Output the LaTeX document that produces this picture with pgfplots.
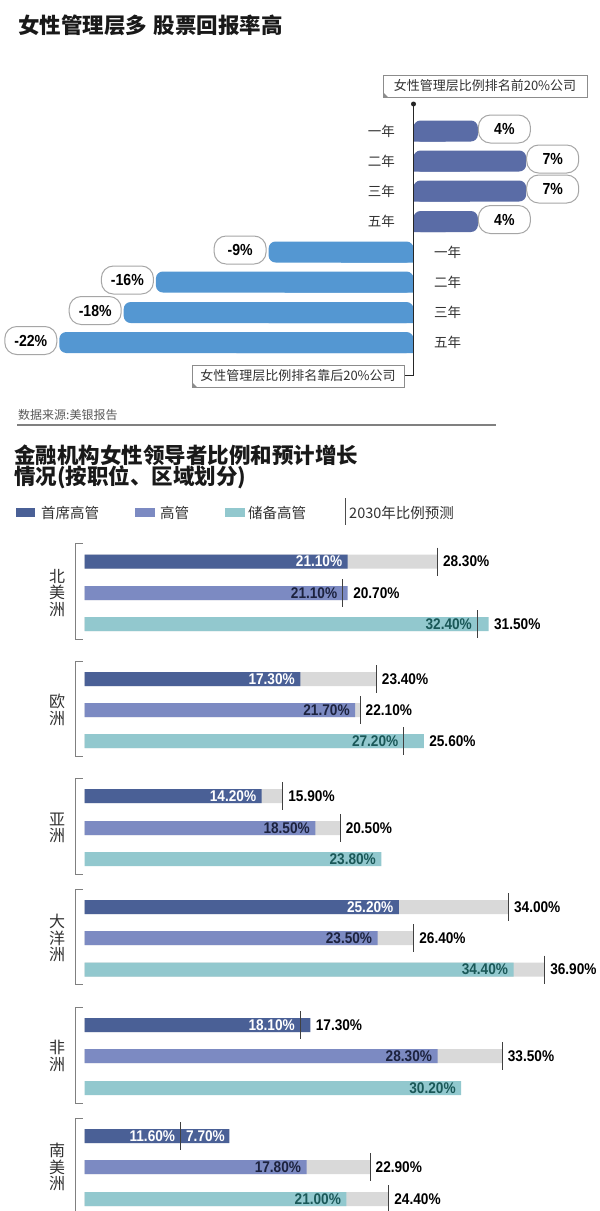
\documentclass[border=0pt]{standalone}
\usepackage{pgfplots}
\pgfplotsset{compat=1.18}
\usepackage{pgfplotstable}
\usepackage{fontspec}
\setmainfont{Noto Sans CJK SC}
\newfontfamily\numfont[FakeStretch=0.88]{Liberation Sans}

\definecolor{posblue}{RGB}{90,108,166}
\definecolor{negblue}{RGB}{84,151,210}
\definecolor{cA}{RGB}{74,96,150}
\definecolor{cB}{RGB}{124,138,194}
\definecolor{cC}{RGB}{146,200,206}
\definecolor{cG}{RGB}{217,217,217}
\definecolor{txtA}{RGB}{28,34,62}
\definecolor{txtC}{RGB}{26,88,88}
\definecolor{txtgray}{RGB}{50,50,50}

% top chart: stock return, y = row position (px)
\pgfplotstableread{
y v
131 4
161 7
191 7
221.5 4
}\tPos
\pgfplotstableread{
y v
252 -9
282 -16
312.5 -18
342.5 -22
}\tNeg

% bottom chart: current share (cur), label position (lx)
\pgfplotstableread{
y cur lx
561.5 21.1 21.1
679 17.3 17.3
796 14.2 14.2
907 25.2 25.2
1025 18.1 17.3
1136 11.6 7.7
}\tA
\pgfplotstableread{
y cur lx
593 21.1 20.7
710 21.7 21.7
828 18.5 18.5
938 23.5 23.5
1056 28.3 28.3
1167 17.8 17.8
}\tB
\pgfplotstableread{
y cur lx
624 32.4 31.5
741 27.2 25.6
859 23.8 23.8
969.5 34.4 34.4
1088 30.2 30.2
1199 21.0 21.0
}\tC
% 2030 forecast (fut), label position (fx)
\pgfplotstableread{
y fut fx
561.5 28.3 28.3
593 20.7 21.1
624 31.5 32.4
679 23.4 23.4
710 22.1 22.1
741 25.6 27.2
796 15.9 15.9
828 20.5 20.5
907 34.0 34.0
938 26.4 26.4
969.5 36.9 36.9
1025 17.3 18.1
1056 33.5 33.5
1136 7.7 7.7
1167 22.9 22.9
1199 24.4 24.4
}\tF

\tikzset{
  numlab/.style={font=\numfont\bfseries\fontsize{15.5}{16}\selectfont},
  mycallout/.style={draw=black!35, line width=1pt, fill=white, rounded corners=12pt,
    minimum width=52pt, minimum height=28pt, inner sep=0pt, text=black,
    font=\numfont\bfseries\fontsize{16}{16}\selectfont},
}
\pgfplotsset{
  pctfmt/.style={nodes near coords={\pgfmathprintnumber[fixed,fixed zerofill,precision=2,assume math mode=true]{\pgfplotspointmeta}\%}},
}

\begin{document}
\begin{tikzpicture}
\path[use as bounding box] (0,0) rectangle (600pt,-1211pt);
\fill[white] (0,0) rectangle (600pt,-1211pt);

% ---------- top chart ----------
\begin{axis}[at={(11pt,-100pt)}, anchor=north west, scale only axis,
  width=579.6pt, height=300pt, xmin=-25, xmax=11, ymin=100, ymax=400,
  y dir=reverse, axis lines=none, clip=false]
\addplot[xbar, bar width=21, bar shift=0, fill=posblue, draw=none, rounded corners=7pt] table[x=v,y=y]{\tPos};
\addplot[xbar, bar width=10.5, bar shift=5.25, fill=posblue, draw=none] table[x expr=\thisrow{v}/2,y=y]{\tPos};
\addplot[xbar, bar width=21, bar shift=0, fill=negblue, draw=none, rounded corners=7pt] table[x=v,y=y]{\tNeg};
\addplot[xbar, bar width=10.5, bar shift=5.25, fill=negblue, draw=none] table[x expr=\thisrow{v}/2,y=y]{\tNeg};
% callouts
\addplot[draw=none, nodes near coords, point meta=explicit symbolic,
  every node near coord/.append style={mycallout, anchor=west, xshift=0pt}]
  coordinates {(4,129) [4\%] (7,159) [7\%] (7,189) [7\%] (4,219.5) [4\%]};
\addplot[draw=none, nodes near coords, point meta=explicit symbolic,
  every node near coord/.append style={mycallout, anchor=east, xshift=-2pt}]
  coordinates {(-9,250) [-9\%] (-16,280) [-16\%] (-18,310.5) [-18\%] (-22,340.5) [-22\%]};
% category labels
\addplot[draw=none, nodes near coords, point meta=explicit symbolic,
  every node near coord/.append style={anchor=east, xshift=-15pt, text=txtgray, font=\fontsize{13.5}{13.5}\selectfont}]
  coordinates {(0,131) [一年] (0,161) [二年] (0,191) [三年] (0,221.5) [五年]};
\addplot[draw=none, nodes near coords, point meta=explicit symbolic,
  every node near coord/.append style={anchor=west, xshift=17pt, text=txtgray, font=\fontsize{13.5}{13.5}\selectfont}]
  coordinates {(0,252) [一年] (0,282) [二年] (0,312.5) [三年] (0,342.5) [五年]};
\end{axis}

% ---------- bottom chart ----------
\begin{axis}[at={(84.6pt,-540pt)}, anchor=north west, scale only axis,
  width=511.27pt, height=671pt, xmin=0, xmax=41, ymin=540, ymax=1211,
  y dir=reverse, axis lines=none, clip=false]
\addplot[xbar, bar width=14, bar shift=0, fill=cG, draw=none] table[x=fut,y=y]{\tF};
\addplot[xbar, bar width=14, bar shift=0, fill=cA, draw=none] table[x=cur,y=y]{\tA};
\addplot[xbar, bar width=14, bar shift=0, fill=cB, draw=none] table[x=cur,y=y]{\tB};
\addplot[xbar, bar width=14, bar shift=0, fill=cC, draw=none] table[x=cur,y=y]{\tC};
\addplot[only marks, mark=|, mark size=14pt, mark options={line width=0.9pt, draw=black!75}] table[x=fut,y=y]{\tF};
% current labels
\addplot[draw=none, pctfmt, point meta=\thisrow{cur},
  every node near coord/.append style={numlab, anchor=east, xshift=-2pt, text=white}] table[x=lx,y=y]{\tA};
\addplot[draw=none, pctfmt, point meta=\thisrow{cur},
  every node near coord/.append style={numlab, anchor=east, xshift=-2pt, text=txtA}] table[x=lx,y=y]{\tB};
\addplot[draw=none, pctfmt, point meta=\thisrow{cur},
  every node near coord/.append style={numlab, anchor=east, xshift=-2pt, text=txtC}] table[x=lx,y=y]{\tC};
% 2030 labels
\addplot[draw=none, pctfmt, point meta=\thisrow{fut},
  every node near coord/.append style={numlab, anchor=west, xshift=2pt, text=black}]
  table[x=fx,y=y, restrict y to domain=0:1130]{\tF};
\addplot[draw=none, pctfmt, point meta=\thisrow{fut},
  every node near coord/.append style={numlab, anchor=west, xshift=2pt, text=white}]
  table[x=fx,y=y, restrict y to domain=1130:1140]{\tF};
\addplot[draw=none, pctfmt, point meta=\thisrow{fut},
  every node near coord/.append style={numlab, anchor=west, xshift=2pt, text=black}]
  table[x=fx,y=y, restrict y to domain=1150:1211]{\tF};
\end{axis}

% ---------- decorations (pixel coordinates, y downward) ----------
\begin{scope}[x=1pt,y=-1pt]
\node[anchor=west, inner sep=0pt, font=\fontsize{21.5}{21.5}\selectfont\bfseries, text=black!90] at (18,25) {女性管理层多\hspace{0.3em}股票回报率高};

% top axis line and boxes
\draw[line width=1pt, black!85] (413.5,104) -- (413.5,375) -- (405,375);
\fill[black!85] (413.5,104) circle (2.5pt);
\node[draw=black!45, fill=white, line width=0.8pt, minimum width=204pt, minimum height=22pt, inner sep=0pt,
  font=\fontsize{13}{13}\selectfont, text=txtgray] at (485,86) {女性管理层比例排名前20\%公司};
\fill[black!45] (383,92) -- (388,97) -- (383,97) -- cycle;
\node[draw=black!45, fill=white, line width=0.8pt, minimum width=212pt, minimum height=22pt, inner sep=0pt,
  font=\fontsize{13}{13}\selectfont, text=txtgray] at (298,376) {女性管理层比例排名靠后20\%公司};
\fill[black!45] (192,382) -- (197,387) -- (192,387) -- cycle;

% source and rule
\node[anchor=west, inner sep=0pt, font=\fontsize{12}{12}\selectfont, text=black!65] at (18,415) {数据来源:美银报告};
\draw[black!50, line width=1.2pt] (17,425) -- (496,425);

% second title
\node[anchor=west, inner sep=0pt, font=\fontsize{21.5}{22}\selectfont\bfseries, text=black!90] at (14,455) {金融机构女性领导者比例和预计增长};
\node[anchor=west, inner sep=0pt, font=\fontsize{21.5}{22}\selectfont\bfseries, text=black!90] at (14,477) {情况(按职位、区域划分)};

% legend
\fill[cA] (16,508) rectangle (35,517);
\node[anchor=west, inner sep=0pt, font=\fontsize{14.5}{14.5}\selectfont, text=txtgray] at (41,512.5) {首席高管};
\fill[cB] (135,508) rectangle (155,517);
\node[anchor=west, inner sep=0pt, font=\fontsize{14.5}{14.5}\selectfont, text=txtgray] at (160,512.5) {高管};
\fill[cC] (225,508) rectangle (245,517);
\node[anchor=west, inner sep=0pt, font=\fontsize{14.5}{14.5}\selectfont, text=txtgray] at (248,512.5) {储备高管};
\draw[black!70, line width=0.8pt] (345,498) -- (345,525);
\node[anchor=west, inner sep=0pt, font=\fontsize{14.5}{14.5}\selectfont, text=txtgray] at (349,512.5) {2030年比例预测};

% group brackets and labels
\foreach \t/\b in {543.5/639, 661/756, 778/874, 889/984.5, 1007/1103, 1118/1215}{
  \draw[black!50, line width=0.8pt] (82.7,\t) -- (75.8,\t) -- (75.8,\b) -- (82.7,\b);
}
\node[align=center, inner sep=0pt, font=\fontsize{16}{16.5}\selectfont, text=txtgray] at (57,593) {北\\美\\洲};
\node[align=center, inner sep=0pt, font=\fontsize{16}{16.5}\selectfont, text=txtgray] at (57,710) {欧\\洲};
\node[align=center, inner sep=0pt, font=\fontsize{16}{16.5}\selectfont, text=txtgray] at (57,828) {亚\\洲};
\node[align=center, inner sep=0pt, font=\fontsize{16}{16.5}\selectfont, text=txtgray] at (57,938) {大\\洋\\洲};
\node[align=center, inner sep=0pt, font=\fontsize{16}{16.5}\selectfont, text=txtgray] at (57,1056) {非\\洲};
\node[align=center, inner sep=0pt, font=\fontsize{16}{16.5}\selectfont, text=txtgray] at (57,1167) {南\\美\\洲};
\end{scope}
\end{tikzpicture}
\end{document}
